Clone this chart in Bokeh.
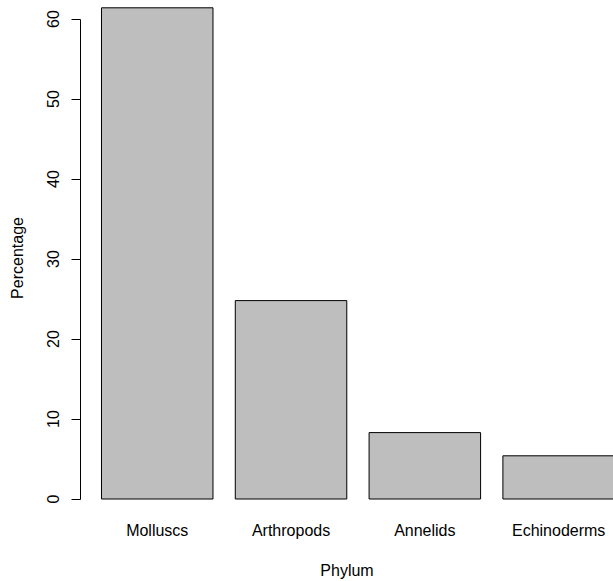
from bokeh.plotting import figure
from bokeh.models import Range1d, FixedTicker
from bokeh.embed import file_html
from bokeh.resources import INLINE

categories = ["Molluscs", "Arthropods", "Annelids", "Echinoderms"]
percentages = [61.4, 24.8, 8.3, 5.4]
y_ticks = [0, 10, 20, 30, 40, 50, 60]

# R barplot layout: width 1, space 0.2
bar_width = 1.0
space = 0.2
centers = [space + bar_width / 2 + i * (bar_width + space) for i in range(len(categories))]

FONT = "Liberation Sans"

p = figure(width=613, height=581, output_backend="svg", toolbar_location=None,
           x_range=Range1d(0.0117, 4.792), y_range=Range1d(-2.0625, 62.3125),
           min_border_left=80, min_border_right=0, min_border_top=0, min_border_bottom=66)
p.outline_line_color = None
p.grid.visible = False
p.background_fill_color = "white"
p.border_fill_color = "white"

p.vbar(x=centers, top=percentages, bottom=0, width=bar_width,
       fill_color="#BEBEBE", line_color="black", line_width=1)

# y axis
ya = p.yaxis[0]
ya.ticker = FixedTicker(ticks=y_ticks)
ya.bounds = (0, 60)
ya.minor_tick_line_color = None
ya.major_tick_in = 0
ya.major_tick_out = 9
ya.axis_line_color = "black"
ya.major_tick_line_color = "black"
ya.major_label_orientation = "vertical"
ya.major_label_text_font = FONT
ya.major_label_text_font_size = "16px"
ya.major_label_text_color = "black"
ya.major_label_standoff = 13
ya.axis_label = "Percentage"
ya.axis_label_text_font = FONT
ya.axis_label_text_font_size = "16px"
ya.axis_label_text_font_style = "normal"
ya.axis_label_text_color = "black"
ya.axis_label_standoff = 18

# x axis (category labels only)
xa = p.xaxis[0]
xa.ticker = FixedTicker(ticks=centers)
xa.major_label_overrides = {c: name for c, name in zip(centers, categories)}
xa.axis_line_color = None
xa.major_tick_line_color = None
xa.minor_tick_line_color = None
xa.major_tick_in = 0
xa.major_tick_out = 0
xa.major_label_text_font = FONT
xa.major_label_text_font_size = "16px"
xa.major_label_text_color = "black"
xa.major_label_standoff = 6
xa.axis_label = "Phylum"
xa.axis_label_text_font = FONT
xa.axis_label_text_font_size = "16px"
xa.axis_label_text_font_style = "normal"
xa.axis_label_text_color = "black"
xa.axis_label_standoff = 20

open("out.html", "w").write(file_html(p, INLINE))
